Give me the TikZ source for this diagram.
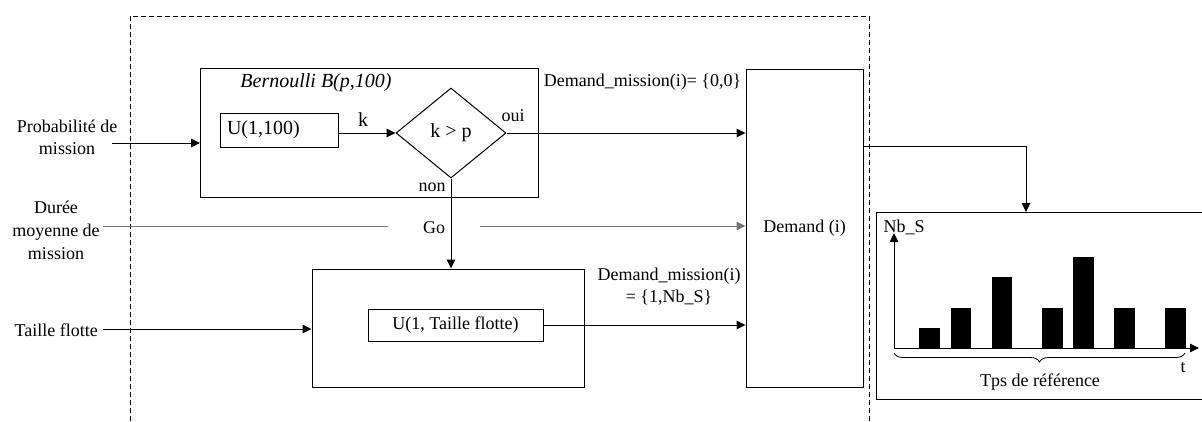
\documentclass[tikz,border=0pt]{standalone}
\usepackage{fontspec}
\setmainfont{Liberation Serif}
\newfontfamily\tms{Liberation Serif}
\usetikzlibrary{arrows.meta,shapes.geometric,decorations.pathreplacing,calc}
\begin{document}
\begin{tikzpicture}[x=1pt,y=-1pt,
  every node/.style={font=\tms\fontsize{18}{22}\selectfont},
  box/.style={draw,line width=1pt,inner sep=0pt,rectangle},
  lbl/.style={inner sep=0pt,align=center},
  big/.style={font=\tms\fontsize{20}{24}\selectfont},
  ln/.style={line width=1pt},
  gln/.style={line width=1pt,draw=black!55},
  arr/.style={line width=1pt,-{Triangle[length=9pt,width=8.5pt]}},
  frame/.style={line width=1pt,dash pattern=on 5pt off 3pt}]
\useasboundingbox (0,0) rectangle (1202,421);

% dashed frame
\draw[frame] (130,421) -- (130,16) -- (869,16) -- (869,421);

% Bernoulli block
\node[box,minimum width=338,minimum height=129] (bern) at (369.5,132.5) {};
\node[lbl,font=\tms\fontsize{20}{24}\selectfont\itshape] (bernlbl) at (316,83) {Bernoulli B(p,100)};
\node[box,big,minimum height=34,text width=104,inner xsep=7pt,align=left] (u100) at (279,130) {U(1,100)};
\node[lbl,big] (k) at (363,120) {k};
\node[draw,line width=1pt,diamond,aspect=1.22,minimum width=110,minimum height=90,inner sep=0pt,big] (diam) at (451,133) {k > p};
\node[lbl] (oui) at (513,116) {oui};
\node[lbl] (non) at (432,187) {non};

% inputs
\node[lbl] (prob) at (67,137) {Probabilit\'e de\\mission};
\coordinate (pS) at (112,143);
\node[lbl,font=\tms\fontsize{18}{23}\selectfont] (duree) at (56,230) {Dur\'ee\\moyenne de\\mission};
\coordinate (dS) at (103,226);
\node[lbl,anchor=east] (taille) at (98,330) {Taille flotte};
\coordinate (tS) at (103,329);

% Demand block
\node[box,minimum width=117,minimum height=318] (demand) at (804.5,228) {Demand (i)};
\node[lbl] (dm1) at (642.5,82) {Demand\_mission(i)= \{0,0\}};
\node[lbl] (dm2) at (669,287) {Demand\_mission(i)\\= \{1,Nb\_S\}};

% Go
\node[lbl,minimum width=92] (go) at (434,228) {Go};

% lower block
\node[box,minimum width=272,minimum height=118] (lower) at (448,328) {};
\node[box,minimum width=175,minimum height=32] (utf) at (455.5,325) {U(1, Taille flotte)};

% connectors
\draw[arr] (pS) -- (pS -| bern.west);
\draw[arr] (u100.east |- diam.west) -- (diam.west);
\draw[arr] (diam.east) -- (diam.east -| demand.west);
\draw[arr] (diam.south) -- (diam.south |- lower.north);
\draw[gln] (dS) -- (dS -| go.west);
\draw[arr,draw=black!55] (go.east |- dS) -- (dS -| demand.west);
\draw[arr] (tS) -- (tS -| lower.west);
\draw[arr] (utf.east) -- (utf.east -| demand.west);

% histogram panel
\coordinate (htop) at (1026,212);
\draw[arr] (demand.east |- 0,146) -| (htop);
\draw[ln] (1202,212) -- (876,212) -- (876,399) -- (1202,399);
\node[lbl] (nbs) at (904,227) {Nb\_S};
\coordinate (O) at (894,348);
\coordinate (yEnd) at (894,233);
\coordinate (xEnd) at (1199,348);
\draw[arr] (O) -- (yEnd);
\draw[arr] (O) -- (xEnd);
\fill (919,348) rectangle (940,328);
\fill (951,348) rectangle (971,308);
\fill (992,348) rectangle (1012,277);
\fill (1042,348) rectangle (1063,308);
\fill (1073,348) rectangle (1094,257);
\fill (1114,348) rectangle (1135,308);
\fill (1165,348) rectangle (1186,308);
\draw[line width=0.8pt,decorate,decoration={brace,mirror,amplitude=9pt}] (894,353) -- (1185,353);
\node[lbl] (t) at (1183,368) {t};
\node[lbl] (tps) at (1040,382) {Tps de r\'ef\'erence};
\end{tikzpicture}
\end{document}
